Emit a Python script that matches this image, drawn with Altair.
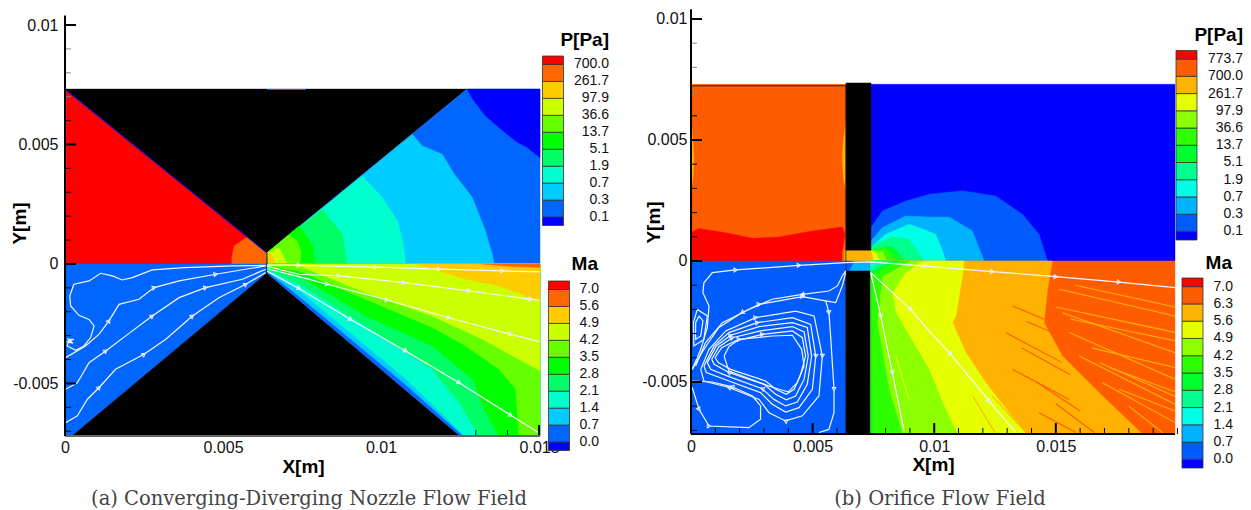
import math
import altair as alt
import pandas as pd

SANS = "Liberation Sans"
SERIF = "DejaVu Serif"

# ---------- legend contents ----------
A_COL = ['#0000ff','#0066ff','#00ccff','#00ffcc','#00ff66','#00ff00','#66ff00','#ccff00','#ffcc00','#ff6600','#ff0000']
B_COL = ['#0000ff','#005cff','#00b3ff','#00ffe6','#00ff8c','#00ff2e','#2eff00','#8cff00','#e6ff00','#ffb300','#ff5c00','#ff0000']
A_P = ['0.1','0.3','0.7','1.9','5.1','13.7','36.6','97.9','261.7','700.0']
A_MA = ['0.0','0.7','1.4','2.1','2.8','3.5','4.2','4.9','5.6','7.0']
B_P = ['0.1','0.3','0.7','1.9','5.1','13.7','36.6','97.9','261.7','700.0','773.7']
B_MA = ['0.0','0.7','1.4','2.1','2.8','3.5','4.2','4.9','5.6','6.3','7.0']

# ---------- panel (a) regions, x / y in mm ----------
A_POLYS = [
 ('#ff0000', [(0,0),(0,7.3),(6.39,0.46),(6.39,0)]),
 ('#ff6600', [(5.28,0),(5.28,.25),(5.35,.75),(5.76,1.13),(6.39,.46),(6.39,0)]),
 ('#000000', [(0,7.32),(12.72,7.32),(6.39,.46)]),
 ('#0066ff', [(6.39,.46),(12.72,7.32),(15.03,7.32),(15.03,0),(6.39,0)]),
 ('#0000ff', [(12.72,7.32),(15.03,7.32),(15.03,4.45),(14.6,4.9),(14.3,5.1),(13.73,5.71),(13.3,6.2),(12.9,6.9)]),
 ('#00ccff', [(6.39,.46),(10.99,5.43),(11.3,4.95),(11.94,4.59),(12.3,3.8),(12.89,2.78),(13.3,1.4),(13.52,.41),(13.58,0),(6.39,0)]),
 ('#00ffcc', [(6.39,.46),(9.41,3.68),(10.04,2.78),(10.52,1.8),(10.7,.9),(10.78,0),(6.39,0)]),
 ('#00ff66', [(6.39,.46),(8.14,2.29),(8.78,1.24),(8.93,0),(6.39,0)]),
 ('#00ff00', [(6.39,.46),(7.405,1.59),(7.83,.83),(7.93,0),(6.39,0)]),
 ('#66ff00', [(6.39,.46),(7.09,1.22),(7.35,.95),(7.47,.5),(7.45,0),(6.39,0)]),
 ('#ccff00', [(6.39,.46),(6.77,.67),(7.03,0),(6.39,0)]),
 ('#ffcc00', [(6.39,.46),(6.52,.42),(6.68,0),(6.39,0)]),
 # lower half
 ('#0066ff', [(0,0),(6.39,0),(6.39,-.38),(.22,-7.2),(0,-7.2)]),
 ('#000000', [(.22,-7.2),(12.5,-7.2),(6.39,-.38)]),
 ('#0066ff', [(6.39,0),(15.03,0),(15.03,-7.2),(12.5,-7.2),(6.39,-.38)]),
 ('#00ccff', [(6.39,0),(15.03,0),(15.03,-7.2),(12.6,-7.2),(10.78,-5.05),(7.405,-1.35),(6.39,-.3)]),
 ('#00ffcc', [(6.39,0),(15.03,0),(15.03,-7.2),(12.65,-7.2),(10.78,-4.8),(9.0,-2.85),(7.405,-1.1),(6.39,-.25)]),
 ('#00ff66', [(6.39,0),(15.03,0),(15.03,-7.2),(13.1,-7.2),(12.47,-5.8),(11.62,-4.41),(9.51,-2.59),(7.405,-.85),(6.39,-.2)]),
 ('#00ff00', [(6.39,0),(15.03,0),(15.03,-7.2),(13.73,-7.2),(13.31,-6.22),(12.89,-4.83),(11.62,-3.43),(9.51,-2.18),(7.405,-.5),(6.39,-.12)]),
 ('#66ff00', [(6.39,0),(15.03,0),(15.03,-7.2),(14.37,-7.2),(14.26,-5.24),(13.73,-4.41),(12.68,-3.43),(11.62,-2.66),(9.51,-1.48),(7.405,-.29),(6.39,-.08)]),
 ('#ccff00', [(6.39,0),(15.03,0),(15.03,-4.48),(13.21,-3.15),(11.62,-2.18),(9.51,-1.2),(7.405,-.08)]),
 ('#ffcc00', [(11.1,0),(15.03,0),(15.03,-1.55),(13.73,-.92),(12.68,-.64)]),
 ('#ff6600', [(13.2,0),(15.03,0),(15.03,-.15),(14,-.1)]),
]

A_STREAMS = [
 ([(6.35,-.06),(5.30,-.08),(3.77,-.15),(2.76,-.25),(2.13,-.57),(1.81,-.67),(1.50,-.50),(1.13,-.39),(.76,-.71),(.28,-.85),(.15,-1.34),(.18,-1.76),(.44,-2.15),(.76,-2.32),(.92,-2.59),(.81,-3.08),(.60,-3.43),(.34,-3.61),(.07,-3.43),(.13,-3.15),(.28,-3.15),(.07,-3.26),(.25,-3.32),(.07,-3.12)], []),
 ([(.02,-3.92),(.65,-3.43),(1.08,-2.94),(1.39,-2.38),(1.71,-1.69),(2.34,-1.48),(2.82,-.99),(3.61,-.71),(4.77,-.43),(6.35,-.08)], [3,6,8]),
 ([(.02,-5.24),(.39,-4.97),(.76,-4.13),(1.29,-3.64),(1.92,-3.01),(2.76,-2.18),(3.61,-1.41),(4.45,-.99),(5.61,-.64),(6.35,-.22)], [3,5,7]),
 ([(.02,-6.64),(.39,-6.36),(.71,-5.66),(1.08,-5.17),(1.60,-4.41),(2.50,-3.78),(3.19,-3.15),(4.03,-2.18),(4.87,-1.41),(5.72,-.85),(6.35,-.36)], [3,5,7,9]),
 ([(6.39,-.05),(7.405,-.06),(9.83,-.13),(11.84,-.22),(13.84,-.29),(15.03,-.33)], [1,2,3,4]),
 ([(6.39,-.1),(7.405,-.43),(8.67,-.50),(10.73,-.78),(12.79,-1.13),(14.74,-1.48),(15.03,-1.52)], [2,3,4,5]),
 ([(6.39,-.2),(7.405,-.53),(8.30,-.85),(10.2,-1.51),(12.15,-2.25),(14.1,-2.94),(15.03,-3.26)], [2,3,4,5]),
 ([(6.39,-.3),(7.405,-1.03),(9.04,-2.32),(10.78,-3.64),(12.47,-4.97),(14.1,-6.33),(15.0,-7.06)], [1,2,3,4,5]),
]

# ---------- panel (b) regions, x / y in mm ----------
B_POLYS = [
 ('#ff5c00', [(0,0),(0,7.3),(6.37,7.3),(6.37,0)]),
 ('#ffb300', [(0,5.65),(.08,5.0),(.12,4.2),(.08,3.4),(0,3.0)]),
 ('#ffb300', [(6.37,5.8),(6.25,4.8),(6.22,4.2),(6.27,3.4),(6.37,3.0)]),
 ('#ff0000', [(0,0),(.03,1.2),(.33,1.34),(1.43,1.17),(2.52,.94),(3.62,.99),(4.99,1.24),(6.22,1.40),(6.33,1.1),(6.22,.41),(6.22,0)]),
 ('#ff5c00', [(6.22,0),(6.22,.41),(6.37,.44),(6.37,0)]),
 ('#0000ff', [(7.4,0),(7.4,7.3),(19.9,7.3),(19.9,0)]),
 ('#005cff', [(7.4,0),(7.39,1.38),(7.87,2.07),(8.83,2.48),(9.79,2.76),(11.16,2.9),(12.53,2.69),(13.63,1.93),(14.31,1.1),(14.66,0)]),
 ('#00b3ff', [(7.4,0),(7.39,.83),(7.87,1.38),(8.83,1.86),(9.79,1.82),(10.61,1.82),(11.57,1.24),(12.05,0)]),
 ('#00ffe6', [(7.4,0),(7.39,.55),(8.0,1.1),(8.96,1.52),(9.6,1.3),(10.06,1.1),(10.34,.41),(10.48,0)]),
 ('#00ff8c', [(7.4,0),(7.39,.62),(8.28,1.0),(8.96,.9),(9.51,.14),(9.58,0)]),
 ('#00ff2e', [(7.4,0),(7.46,.48),(8.28,.62),(8.69,.14),(8.83,0)]),
 ('#2eff00', [(7.4,0),(7.5,.44),(8.0,.55),(8.3,.25),(8.42,0)]),
 ('#8cff00', [(7.4,0),(7.45,.44),(7.9,.38),(8.05,0)]),
 ('#e6ff00', [(7.39,0),(7.39,.44),(7.6,.3),(7.75,0)]),
 ('#ffb300', [(6.3,0),(6.3,.44),(7.4,.44),(7.5,0)]),
 ('#000000', [(6.37,.44),(6.37,7.36),(7.4,7.36),(7.4,.44)]),
 # lower half
 ('#005cff', [(0,0),(6.37,0),(6.37,-7.15),(0,-7.15)]),
 ('#00b3ff', [(6.37,0),(7.4,0),(7.4,-.41),(6.37,-.41)]),
 ('#005cff', [(6.37,0),(6.7,0),(6.5,-.41),(6.37,-.41)]),
 ('#000000', [(6.37,-.41),(7.4,-.41),(7.4,-7.15),(6.37,-7.15)]),
 ('#ff5c00', [(7.4,0),(19.9,0),(19.9,-7.15),(7.4,-7.15)]),
 ('#ffb300', [(7.4,0),(14.86,0),(14.66,-1.17),(14.52,-2.55),(15.27,-3.93),(16.92,-5.58),(18.56,-7.15),(7.4,-7.15)]),
 ('#e6ff00', [(7.4,0),(11.23,0),(11.16,-.62),(10.89,-2.27),(10.75,-2.55),(11.3,-3.79),(12.12,-5.03),(13.08,-6.27),(13.77,-7.15),(7.4,-7.15)]),
 ('#8cff00', [(7.4,0),(9.5,0),(8.8,-.5),(8.28,-1.31),(8.42,-2.14),(9.79,-4.48),(10.34,-5.85),(10.96,-7.15),(7.4,-7.15)]),
 ('#2eff00', [(7.4,0),(9.0,0),(8.3,-.4),(7.87,-.62),(7.66,-2.55),(8.14,-5.3),(8.69,-7.15),(7.4,-7.15)]),
 ('#00ff2e', [(7.4,0),(8.6,0),(8.0,-.25),(7.46,-.6),(7.43,-2.55),(7.46,-7.15),(7.4,-7.15)]),
 ('#00ff8c', [(7.4,0),(8.2,0),(7.8,-.2),(7.4,-.45)]),
 ('#00ffe6', [(7.4,0),(7.9,0),(7.6,-.15),(7.4,-.3)]),
]

B_STREAKS = [
 ('#ffb300', [(15.27,-2.14),(19.9,-3.79)]),
 ('#ffb300', [(15.55,-2.96),(19.9,-4.89)]),
 ('#ffb300', [(15.96,-3.93),(19.9,-5.92)]),
 ('#ffb300', [(16.92,-5.03),(19.9,-6.68)]),
 ('#ffb300', [(15.14,-1.17),(19.9,-2.27)]),
 ('#ffb300', [(17.2,-4.4),(19.9,-5.4)]),
 ('#ffb300', [(15.0,-1.9),(19.9,-2.95)]),
 ('#ffb300', [(15.6,-2.4),(19.9,-3.3)]),
 ('#ffb300', [(16.5,-3.6),(19.9,-4.4)]),
 ('#ffb300', [(16.8,-4.2),(19.9,-5.6)]),
 ('#ffb300', [(17.6,-5.3),(19.9,-6.2)]),
 ('#ffb300', [(18.0,-6.0),(19.4,-7.1)]),
 ('#ffb300', [(15.8,-1.0),(19.9,-1.9)]),
 ('#ff5c00', [(13.22,-1.86),(14.52,-2.41)]),
 ('#ff5c00', [(12.94,-2.96),(15.27,-4.2)]),
 ('#ff5c00', [(13.22,-4.48),(15.55,-5.72)]),
 ('#ff5c00', [(14.31,-6.27),(15.82,-7.09)]),
 ('#ff5c00', [(13.8,-2.5),(15.2,-3.1)]),
 ('#ff5c00', [(13.6,-3.6),(15.6,-4.7)]),
 ('#ff5c00', [(14.2,-5.0),(16.0,-6.2)]),
 ('#ff5c00', [(15.0,-5.9),(16.6,-7.1)]),
 ('#8cff00', [(8.14,-4.61),(9.38,-7.09)]),
 ('#e6ff00', [(8.42,-3.93),(8.96,-5.72)]),
 ('#8cff00', [(9.79,-5.03),(10.75,-7.09)]),
 ('#ffb300', [(11.6,-5.6),(12.5,-7.1)]),
 ('#ffb300', [(11.6,-2.9),(12.6,-4.0)]),
 ('#ffb300', [(12.4,-5.6),(13.6,-6.9)]),
]

B_STREAMS = [
 ([(.05,-4.48),(.4,-3.65),(.67,-2.75),(.74,-1.86),(.49,-1.31),(.53,-.9),(.88,-.48),(1.84,-.37),(4.44,-.18),(6.36,-.07),(7.32,-.04),(9.65,-.21),(12.39,-.44),(15.0,-.65),(17.6,-.87),(19.9,-1.1)], [7,8,11,12,13,14]),
 ([(7.39,-.48),(7.99,-1.03),(9.03,-2.0),(9.79,-2.89),(10.68,-3.86),(12.26,-5.79),(13.35,-7.09)], [2,4,5]),
 ([(7.39,-.48),(7.8,-2.27),(8.28,-4.61),(8.76,-7.03)], [1,2]),
 ([(6.36,-.41),(6.22,-.62),(6.02,-1.03),(5.67,-1.24),(4.58,-1.38),(3.34,-1.58),(2.1,-2.13),(1.15,-2.75),(.67,-3.44),(.4,-3.86),(.05,-4.48)], [4,6]),
 ([(.19,-4.34),(.6,-3.37),(1.29,-2.55),(2.8,-1.79),(4.58,-1.47),(5.54,-1.65),(5.95,-1.72),(6.22,-1.03),(6.36,-.48)], [3,4]),
 ([(5.54,-1.65),(5.67,-2.13),(5.74,-3.1),(5.88,-5.3),(5.88,-6.27),(5.67,-6.96),(5.26,-7.09)], [1,3]),
 ([(.40,-4.48),(.74,-3.65),(1.43,-2.89),(2.66,-2.34),(4.30,-2.07),(5.06,-2.27),(5.40,-3.93),(5.26,-5.58),(4.58,-6.40),(3.89,-6.61),(3.21,-6.27),(2.80,-5.72),(1.56,-5.23),(.53,-4.96),(.40,-4.48)], [3,6,9,12]),
 ([(.53,-4.34),(.95,-3.51),(1.56,-2.96),(2.73,-2.55),(4.17,-2.34),(4.92,-2.62),(5.13,-3.93),(4.99,-5.30),(4.44,-6.06),(3.89,-6.24),(3.34,-5.92),(2.86,-5.44),(1.56,-4.96),(.63,-4.61),(.53,-4.34)], [3,6]),
 ([(.67,-4.2),(1.04,-3.51),(1.63,-3.07),(2.8,-2.71),(4.17,-2.55),(4.78,-2.75),(4.96,-3.93),(4.78,-5.10),(4.37,-5.83),(3.89,-5.99),(3.41,-5.72),(2.93,-5.28),(1.56,-4.78),(.81,-4.48),(.67,-4.2)], [2,11]),
 ([(.85,-4.06),(1.15,-3.54),(1.7,-3.17),(2.86,-2.89),(4.17,-2.71),(4.65,-2.93),(4.82,-3.93),(4.65,-4.89),(4.3,-5.58),(3.92,-5.74),(3.48,-5.51),(3.0,-5.10),(1.56,-4.61),(.95,-4.27),(.85,-4.06)], [2,12]),
 ([(.99,-3.99),(1.26,-3.58),(1.81,-3.31),(2.93,-3.03),(4.17,-2.89),(4.58,-3.17),(4.71,-3.93),(4.51,-4.68),(4.24,-5.30),(3.92,-5.51),(3.48,-5.30),(3.07,-4.96),(1.63,-4.48),(1.12,-4.2),(.99,-3.99)], [3]),
 ([(1.36,-3.93),(1.56,-3.54),(1.97,-3.24),(3.34,-3.10),(4.17,-3.07),(4.55,-3.65),(4.65,-4.34),(4.37,-5.03),(4.0,-5.41),(3.62,-5.30),(3.21,-5.17),(1.56,-4.55),(1.36,-3.93)], [2]),
 ([(.05,-5.23),(.33,-6.13),(.74,-6.82),(2.38,-6.89),(2.86,-6.54),(2.86,-5.99),(2.53,-5.58),(1.69,-5.2),(.88,-5.0),(.05,-4.96)], [1,2,7]),
 ([(.26,-2.0),(.67,-2.27),(.53,-3.24),(.12,-3.51),(.1,-2.55),(.26,-2.0)], []),
 ([(.33,-2.27),(.49,-2.48),(.4,-3.1),(.19,-3.24),(.19,-2.55),(.33,-2.27)], []),
]


def build_panel(polys, streams, streaks, xdom, ydom, w, h, ytop, ybot, xmaj, ymaj,
                sx, sy, xtitle_cx, ytitle, caption, caption_cx, extras, bottom_color,
                xpad, ypad, ytx):
    xs = alt.Scale(domain=[v / 1000 for v in xdom], nice=False, zero=False)
    ys = alt.Scale(domain=[v / 1000 for v in ydom], nice=False, zero=False)
    lab = "datum.value < 0 ? '-' + format(-datum.value, '~g') : format(datum.value, '~g')"
    X = alt.X('x:Q', scale=xs, axis=alt.Axis(
            values=[v / 1000 for v in xmaj], grid=False, domain=False, ticks=False,
            labelFont=SANS, labelFontSize=16, labelColor='#111', labelPadding=xpad, labelFlush=False,
            labelOverlap=False, labelExpr=lab, labelAngle=0,
            title='X[m]', titleFont=SANS, titleFontSize=19, titleFontWeight='bold', titleColor='#000',
            titleX=xtitle_cx, titleY=21))
    Y = alt.Y('y:Q', scale=ys, axis=alt.Axis(
            values=[v / 1000 for v in ymaj], grid=False, domain=False, ticks=False,
            labelFont=SANS, labelFontSize=16, labelColor='#111', labelPadding=ypad, labelFlush=False,
            labelOverlap=False, labelExpr=lab,
            title='Y[m]', titleFont=SANS, titleFontSize=19, titleFontWeight='bold', titleColor='#000',
            titleX=ytx, titleY=ytitle))
    layers = []

    def frame(pts):
        return pd.DataFrame({'x': [p[0] / 1000 for p in pts], 'y': [p[1] / 1000 for p in pts],
                             'i': list(range(len(pts)))})

    for color, pts in polys:
        layers.append(alt.Chart(frame(pts)).mark_line(
            fill=color, stroke=color, strokeWidth=0.4, interpolate='linear-closed'
        ).encode(x=X, y=Y, order='i:Q'))
    for color, pts in streaks:
        layers.append(alt.Chart(frame(pts)).mark_line(stroke=color, strokeWidth=1.1).encode(x=X, y=Y, order='i:Q'))
    for color, pts, wid in extras:
        layers.append(alt.Chart(frame(pts)).mark_line(stroke=color, strokeWidth=wid).encode(x=X, y=Y, order='i:Q'))
    ax, ay, aa = [], [], []
    for pts, arrows in streams:
        layers.append(alt.Chart(frame(pts)).mark_line(stroke='#f4f6ff', strokeWidth=1.2).encode(x=X, y=Y, order='i:Q'))
        for k in arrows:
            p, q = pts[k], pts[min(k + 1, len(pts) - 1)]
            ax.append(p[0] / 1000)
            ay.append(p[1] / 1000)
            aa.append(math.degrees(math.atan2(-(q[1] - p[1]) * sy, (q[0] - p[0]) * sx)))
    layers.append(alt.Chart(pd.DataFrame({'x': ax, 'y': ay, 'a': aa})).mark_point(
        shape='triangle-right', filled=False, stroke='#e8ecff', strokeWidth=1, size=16, opacity=1
    ).encode(x=X, y=Y, angle=alt.Angle('a:Q', scale=None)))

    # frame lines and inward tick marks
    ylo = ydom[0]
    rows = []
    for v in range(int(xdom[0]), int(round(xdom[1])) + 1):
        maj = v in xmaj
        rows.append(dict(x=v / 1000, y=ylo / 1000, y2=(ylo + (11 if maj else 6) / sy) / 1000, w=2 if maj else 1))
    layers.append(alt.Chart(pd.DataFrame(rows)).mark_rule(color='#000').encode(
        x=X, y=Y, y2='y2:Q', strokeWidth=alt.StrokeWidth('w:Q', scale=None)))
    rows = []
    for v in range(int(ybot), int(ytop) + 1):
        maj = v in ymaj
        rows.append(dict(x=0.0, x2=(11 if maj else 6) / sx / 1000, y=v / 1000, w=2 if maj else 1,
                         c='#000' if maj or v < 7 else '#888'))
    layers.append(alt.Chart(pd.DataFrame(rows)).mark_rule().encode(
        x=X, x2='x2:Q', y=Y, strokeWidth=alt.StrokeWidth('w:Q', scale=None), color=alt.Color('c:N', scale=None)))
    layers.append(alt.Chart(pd.DataFrame({'x': [xdom[0] / 1000], 'x2': [xdom[1] / 1000], 'y': [ylo / 1000]})).mark_rule(
        color=bottom_color, strokeWidth=2).encode(x=X, x2='x2:Q', y=Y))
    layers.append(alt.Chart(pd.DataFrame({'x': [0.0], 'y': [ylo / 1000], 'y2': [ytop / 1000 + 0.0004]})).mark_rule(
        color='#000', strokeWidth=2).encode(x=X, y=Y, y2='y2:Q'))
    layers.append(alt.Chart(pd.DataFrame({'a': [0]})).mark_text(
        text=caption, font=SERIF, fontSize=19.5, color='#444', align='center', baseline='middle'
    ).encode(x=alt.value(caption_cx), y=alt.value(490)))
    return alt.layer(*layers).properties(width=w, height=h)


def legend_block(colors, labels, title, left, top, bottom, label_right, title_right, title_y):
    n = len(labels)
    lo = [-0.5] + [float(i) for i in range(n)]
    hi = [float(i) for i in range(n)] + [n - 0.5]
    scale = alt.Scale(domain=[-0.5, n - 0.5], range=[bottom, top], nice=False, zero=False)
    rects = alt.Chart(pd.DataFrame({'lo': lo, 'hi': hi, 'c': colors})).mark_rect(
        stroke='#333', strokeWidth=0.8
    ).encode(x=alt.value(left), x2=alt.value(left + 21),
             y=alt.Y('lo:Q', scale=scale, axis=None), y2='hi:Q', fill=alt.Fill('c:N', scale=None))
    text = alt.Chart(pd.DataFrame({'lev': [float(i) for i in range(n)], 'label': labels})).mark_text(
        font=SANS, fontSize=14, color='#111', align='right', baseline='middle'
    ).encode(x=alt.value(label_right), y=alt.Y('lev:Q', scale=scale, axis=None), text='label:N')
    head = alt.Chart(pd.DataFrame({'a': [0]})).mark_text(
        text=title, font=SANS, fontSize=19, fontWeight='bold', color='#000', align='right', baseline='middle'
    ).encode(x=alt.value(title_right), y=alt.value(title_y))
    return [rects, text, head]


panel_a = build_panel(
    A_POLYS, A_STREAMS, [], (0, 15.03), (-7.2, 10.67), 475, 427, 10, -7,
    [0, 5, 10, 15], [-5, 0, 5, 10], 31.6, 23.9, 238, 214,
    '(a)  Converging-Diverging Nozzle Flow Field', 244,
    [('#0000ff', [(0, 7.3), (6.39, .46)], 1.0), ('#ff9a00', [(.02, 7.2), (.02, 3.1)], 0.8),
     ('#000000', [(6.39, .46), (6.39, -.38)], 1.0), ('#0066ff', [(6.39, 7.3), (7.63, 7.3)], 1.0)],
    '#666', 3, 7, -36)

panel_b = build_panel(
    B_POLYS, B_STREAMS, B_STREAKS, (0, 19.9), (-7.15, 10.413), 484, 425, 10, -7,
    [0, 5, 10, 15], [-5, 0, 5, 10], 24.32, 24.2, 242, 213,
    '(b)  Orifice Flow Field', 249,
    [('#222222', [(0, 7.24), (6.37, 7.24)], 1.0), ('#222222', [(6.37, 7.3), (6.37, -7.15)], 0.8)],
    '#000', 4, 4, -28)

leg_a = alt.layer(
    *legend_block(A_COL, A_P, 'P[Pa]', 1.5, 47, 216.5, 68, 68, 31),
    *legend_block(A_COL, A_MA, 'Ma', 7.5, 272, 441.5, 58, 57, 255),
).resolve_scale(y='independent').properties(width=149, height=460)

leg_b = alt.layer(
    *legend_block(B_COL, B_P, 'P[Pa]', 0, 41.5, 231, 67, 67, 26),
    *legend_block(B_COL, B_MA, 'Ma', 6, 269, 459, 57, 56, 254),
).resolve_scale(y='independent').properties(width=60, height=460)

chart = alt.hconcat(panel_a, leg_a, panel_b, leg_b, spacing=1, bounds='flush').properties(
    padding={'left': 2, 'right': 0, 'top': 0, 'bottom': 0}
).configure_view(stroke=None)

chart.save("out.html", embed_options={"renderer": "svg", "actions": False})
